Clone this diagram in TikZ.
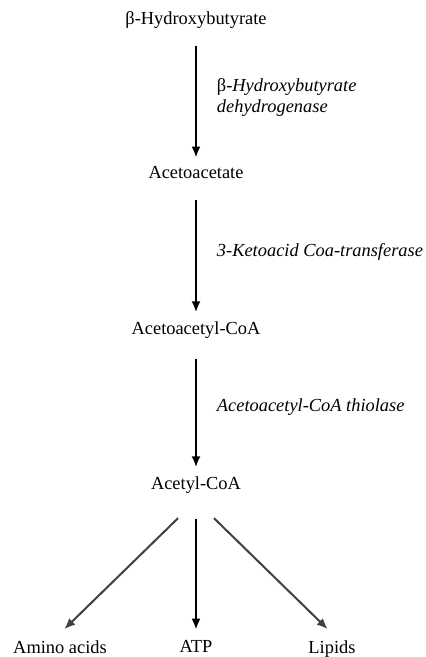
\documentclass[tikz,border=0pt]{standalone}
\usepackage{fontspec}
\setmainfont{Liberation Serif}
\usetikzlibrary{trees,arrows.meta}

\begin{document}
\begin{tikzpicture}[
      grow=down,
      level distance=77.5pt,
      sibling distance=68pt,
      parent anchor=south,
      child anchor=north,
      every node/.style={font=\fontsize{9.2pt}{10.5pt}\selectfont, align=center, text depth=0.22em},
      edge from parent/.style={draw, line width=1.3pt, -{Latex[length=5.5pt,width=4.5pt]}, shorten <=5pt, shorten >=1pt},
      enzyme/.style={right=6.5pt, align=left, font=\fontsize{9.2pt}{10.5pt}\selectfont\itshape},
      side/.style={edge from parent/.append style={draw=black!75, line width=1pt, shorten <=12.5pt, shorten >=3pt}},
      level 3/.style={edge from parent/.append style={shorten <=6.5pt}},
      level 4/.style={level distance=82pt, edge from parent/.append style={shorten <=9pt, shorten >=2pt}}
    ]
    \useasboundingbox (0,0) rectangle (212.5pt,-328.5pt);

    % Ketone body pathway
    \node (hb) at (98pt,-10pt) {β-Hydroxybutyrate}
      child {node (aa) {Acetoacetate}
        child {node (aacoa) {Acetoacetyl-CoA}
          % Acetyl-CoA and what it feeds
          child {node (acoa) {Acetyl-CoA}
            child [side] {node (amino) {Amino acids}}
            child {node (atp) {ATP}}
            child [side] {node (lipids) {Lipids}}
            edge from parent node[enzyme] (thio) {Acetoacetyl-CoA thiolase}
          }
          edge from parent node[enzyme] (trans) {3-Ketoacid Coa-transferase}
        }
        edge from parent node[enzyme] (dehyd) {\upshape β-\itshape Hydroxybutyrate\\dehydrogenase}
      };

\end{tikzpicture}
\end{document}
